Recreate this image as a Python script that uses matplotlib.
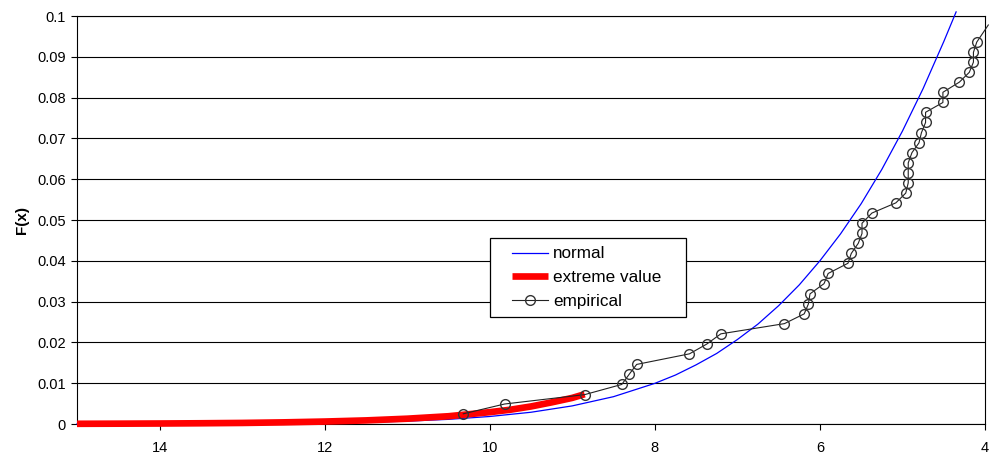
import matplotlib
matplotlib.use("Agg")
import matplotlib.pyplot as plt
from matplotlib.patches import Rectangle

plt.rcParams['font.family'] = ['Liberation Sans', 'DejaVu Sans']

# ---- data ----
normal_x = [15, 14, 13, 12, 11.5, 11, 10.5, 10, 9.5, 9, 8.5, 8, 7.75, 7.5, 7.25,
            7, 6.75, 6.5, 6.25, 6, 5.75, 5.5, 5.25, 5, 4.75, 4.5, 4.35]
normal_y = [0.00001, 0.000025, 0.00008, 0.00025, 0.00042, 0.0007, 0.00114, 0.00184,
            0.00288, 0.00444, 0.0067, 0.00996, 0.0120, 0.0145, 0.0173, 0.0207,
            0.0245, 0.0290, 0.0341, 0.0400, 0.0466, 0.0540, 0.0624, 0.0718,
            0.0822, 0.0937, 0.1010]

extreme_x = [15, 14.5, 14, 13.5, 13, 12.5, 12, 11.5, 11, 10.5, 10, 9.75, 9.5,
             9.25, 9, 8.85]
extreme_y = [0.00005, 0.00008, 0.00012, 0.00018, 0.00026, 0.0004, 0.0006, 0.00088,
             0.0013, 0.0019, 0.0029, 0.0035, 0.0043, 0.0053, 0.0064, 0.0073]

empirical_x = [10.32, 9.82, 8.85, 8.40, 8.31, 8.22, 7.58, 7.37, 7.20, 6.43, 6.19,
               6.14, 6.12, 5.95, 5.90, 5.66, 5.62, 5.535, 5.49, 5.49, 5.37, 5.08,
               4.96, 4.93, 4.93, 4.93, 4.885, 4.80, 4.77, 4.72, 4.72, 4.51, 4.51,
               4.31, 4.19, 4.14, 4.14, 4.10, 3.96]
empirical_y = [0.0025, 0.0049, 0.0072, 0.0097, 0.0122, 0.0146, 0.0172, 0.0196,
               0.0221, 0.0246, 0.0270, 0.0294, 0.0319, 0.0344, 0.0369, 0.0394,
               0.0418, 0.0443, 0.0467, 0.0492, 0.0517, 0.0542, 0.0566, 0.0591,
               0.0615, 0.0640, 0.0665, 0.0689, 0.0714, 0.0739, 0.0764, 0.0788,
               0.0813, 0.0838, 0.0862, 0.0887, 0.0911, 0.0936, 0.0978]

x_ticks = [14, 12, 10, 8, 6, 4]
y_ticks = [0, 0.01, 0.02, 0.03, 0.04, 0.05, 0.06, 0.07, 0.08, 0.09, 0.1]
y_tick_labels = ['0', '0.01', '0.02', '0.03', '0.04', '0.05', '0.06', '0.07',
                 '0.08', '0.09', '0.1']

# ---- figure ----
W, H = 995, 458
fig = plt.figure(figsize=(W / 100, H / 100), dpi=100)
ax = fig.add_axes([77 / W, 34 / H, 908 / W, 408 / H])

ax.set_xlim(15, 4)
ax.set_ylim(0, 0.1)

for yv in y_ticks:
    ax.axhline(yv, color='black', lw=0.8, zorder=1)

l_norm, = ax.plot(normal_x, normal_y, color='#0000ff', lw=0.9, zorder=3,
                  clip_on=False, label='normal')
l_ext, = ax.plot(extreme_x, extreme_y, color='#ff0000', lw=4.8, zorder=4,
                 clip_on=False, solid_capstyle='butt', label='extreme value')
l_emp, = ax.plot(empirical_x, empirical_y, color='#222222', lw=0.8, zorder=5,
                 marker='o', markersize=7, markerfacecolor='none',
                 markeredgecolor='#333333', markeredgewidth=1.0,
                 markevery=list(range(len(empirical_x) - 1)),
                 clip_on=False, label='empirical')

ax.set_xticks(x_ticks)
ax.set_xticklabels([str(t) for t in x_ticks])
ax.set_yticks(y_ticks)
ax.set_yticklabels(y_tick_labels)
ax.tick_params(axis='both', direction='out', length=4, width=0.8,
               labelsize=10.5, colors='black')
ax.tick_params(axis='x', pad=8)
ax.tick_params(axis='y', pad=4)

for s in ax.spines.values():
    s.set_color('black')
    s.set_linewidth(0.8)

ax.set_ylabel('F(x)', fontsize=11, fontweight='bold', labelpad=6)

# legend box and legend
rect = Rectangle((490 / W, (H - 317) / H), 196 / W, 79 / H,
                 transform=fig.transFigure, facecolor='white',
                 edgecolor='black', lw=0.9, zorder=3)
fig.patches.append(rect)
leg = fig.legend(handles=[l_norm, l_ext, l_emp], loc='upper left',
                 bbox_to_anchor=(512 / W, (H - 246.5) / H),
                 frameon=False, fontsize=12.3, borderpad=0, handlelength=2.1,
                 handletextpad=0.3, labelspacing=0.52, borderaxespad=0)
leg.set_zorder(5)

fig.savefig('out.png', dpi=100)
